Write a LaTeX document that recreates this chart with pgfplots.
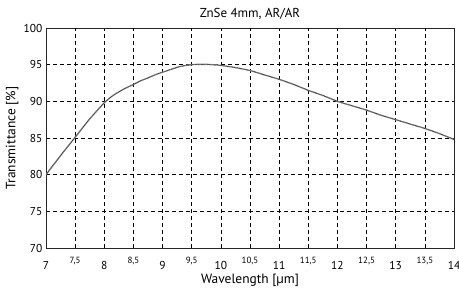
\documentclass[border=0pt]{standalone}
\usepackage{pgfplots}
\pgfplotsset{compat=1.18}
\usepackage{pgfplotstable}
\usepackage{fontspec}
\setmainfont{PT Sans}
\pgfplotstableread{
x y
7.00 80.0
7.25 82.6
7.50 85.1
7.75 87.6
8.00 89.8
8.15 90.8
8.33 91.65
8.50 92.3
8.61 92.75
8.75 93.2
8.90 93.7
9.05 94.1
9.18 94.45
9.30 94.75
9.50 95.0
9.70 95.05
9.85 95.0
10.00 94.9
10.25 94.6
10.50 94.2
10.75 93.6
11.00 93.0
11.25 92.3
11.50 91.5
11.75 90.8
12.00 90.0
12.25 89.4
12.50 88.8
12.75 88.1
13.00 87.5
13.25 86.9
13.50 86.3
13.75 85.6
14.00 84.8
}\curve
\begin{document}
\begin{tikzpicture}
\path[use as bounding box] (-46bp,-40bp) rectangle (413bp,248bp);
\begin{axis}[
  at={(0,0)}, anchor=origin,
  scale only axis, width=408bp, height=220bp,
  xmin=7, xmax=14, ymin=70, ymax=100,
  xtick={7,8,...,14},
  ytick={70,75,...,100},
  extra x ticks={7.5,8.5,9.5,10.5,11.5,12.5,13.5},
  extra x tick style={grid=major, xticklabel style={font=\fontsize{9}{10}\selectfont, yshift=4.5bp}},
  /pgf/number format/use comma,
  /pgf/number format/assume math mode=true,
  xticklabel style={font=\fontsize{11.5}{12}\selectfont, yshift=-10bp},
  yticklabel style={font=\fontsize{11.5}{12}\selectfont},
  major tick length=0pt,
  grid=major,
  major grid style={black, line width=0.6pt, dash pattern=on 4bp off 3bp},
  axis line style={black!85, line width=0.8pt},
  title={ZnSe 4mm, AR/AR},
  title style={at={(axis description cs:0.5,1)}, anchor=base, yshift=5bp, font=\fontsize{13}{14}\selectfont},
  xlabel={Wavelength [µm]},
  xlabel style={at={(axis description cs:0.5,-0.1591)}, anchor=base, font=\fontsize{13.5}{15}\selectfont},
  ylabel={Transmittance [\%]},
  ylabel style={at={(axis description cs:-0.083,0.5)}, anchor=center, font=\fontsize{13.5}{15}\selectfont},
]
\addplot[gray!75, line width=1.4pt, no markers, smooth, tension=0.4] table[x=x,y=y] {\curve};
\addplot[black!85, line width=0.9pt, dash pattern=on 0.5pt off 0.7pt, no markers, smooth, tension=0.4] table[x=x,y=y] {\curve};
\end{axis}
\end{tikzpicture}
\end{document}
